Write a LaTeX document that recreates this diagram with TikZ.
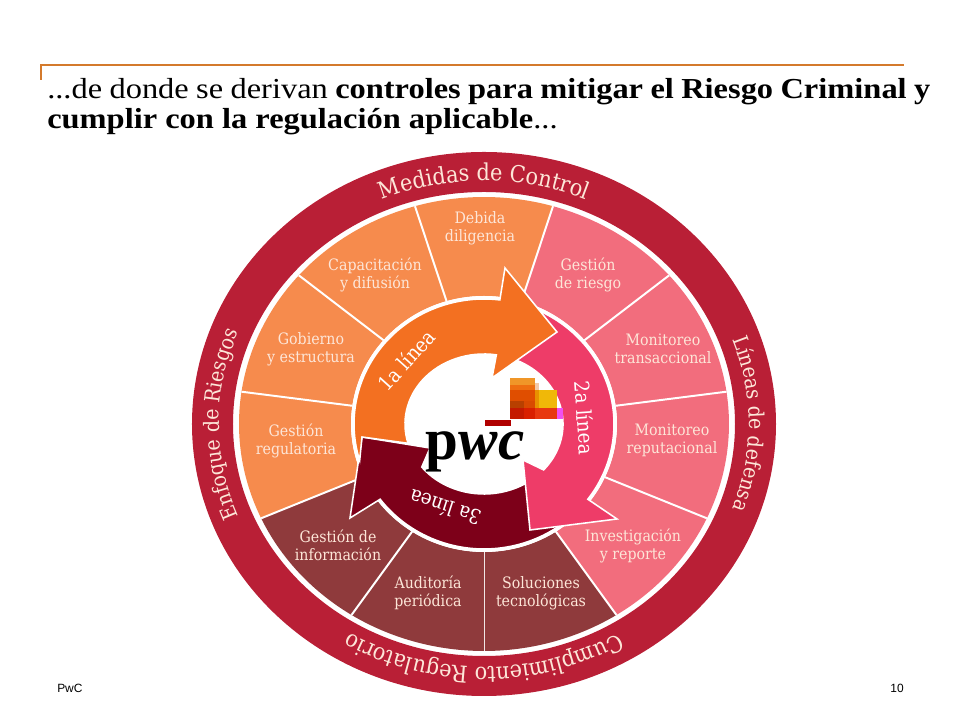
\documentclass[tikz,border=0pt]{standalone}
\usepackage{fontspec}
\usepackage{xcolor}
\usetikzlibrary{decorations.text}
\setmainfont{Liberation Serif}[FakeStretch=1.12]
\newfontfamily\wheelfont{DejaVu Serif Condensed}
\newfontfamily\logofont{Liberation Serif}
\newfontfamily\footfont{Liberation Sans}
\definecolor{ringred}{HTML}{B91F36}
\definecolor{wedgeorange}{HTML}{F68B4D}
\definecolor{wedgepink}{HTML}{F26D7D}
\definecolor{wedgebrown}{HTML}{8F3A3C}
\definecolor{arroworange}{HTML}{F37021}
\definecolor{arrowpink}{HTML}{EE3C68}
\definecolor{arrowdark}{HTML}{7D0019}
\definecolor{paletext}{HTML}{FDE6D8}
\definecolor{rulebrown}{HTML}{D47A2C}
\begin{document}
\begin{tikzpicture}[x=0.025cm,y=0.025cm,
    wedge label/.style={align=center,text=paletext,inner sep=0pt,font=\wheelfont\fontsize{11.2}{12.8}\selectfont},
    arrow label/.style={text=white,inner sep=0pt,font=\wheelfont\fontsize{14.5}{17}\selectfont},
    blade/.style={draw=white,line width=1.1pt,line join=miter}]

    \useasboundingbox (-484,-296) rectangle (476,424);

    % header
    \draw[rulebrown,line width=0.8pt] (-443,344) -- (-443,359) -- (420,359);
    \node[anchor=base west,inner sep=0pt] (title1) at (-437,325) {\fontsize{20.6}{22}\selectfont\makebox[22.07cm][s]{...de donde se derivan \textbf{controles para mitigar el Riesgo Criminal y}}};
    \node[anchor=base west,inner sep=0pt] (title2) at (-437,295) {\fontsize{20.6}{22}\selectfont\textbf{cumplir con la regulación aplicable}...};

    % outer ring
    \fill[ringred,even odd rule] (0,0) ellipse [x radius=292,y radius=272] (0,0) ellipse [x radius=251,y radius=232];

    % wedges
    \foreach \k/\col in {0/wedgebrown,1/wedgepink,2/wedgepink,3/wedgepink,4/wedgepink,5/wedgeorange,6/wedgeorange,7/wedgeorange,8/wedgeorange,9/wedgebrown,10/wedgebrown}
    {
        \pgfmathsetmacro{\a}{270+\k*360/11}
        \pgfmathsetmacro{\b}{\a+360/11}
        \fill[\col] (\a:133 and 128) -- (\a:245 and 227) arc[start angle=\a,end angle=\b,x radius=245,y radius=227] -- (\b:133 and 128) arc[start angle=\b,end angle=\a,x radius=133,y radius=128] -- cycle;
        \draw[white,line width=1.4pt] (\a:133 and 128) -- (\a:245 and 227);
    }
    \fill[white] (0,0) ellipse [x radius=133,y radius=128];

    % labels of the wedges
    \node[wedge label] (debida) at (-4,196) {Debida\\diligencia};
    \node[wedge label] (riesgo) at (104,149) {Gestión\\de riesgo};
    \node[wedge label] (transac) at (179,75) {Monitoreo\\transaccional};
    \node[wedge label] (reputa) at (188,-16) {Monitoreo\\reputacional};
    \node[wedge label] (investi) at (149,-122) {Investigación\\y reporte};
    \node[wedge label] (solucion) at (57,-169) {Soluciones\\tecnológicas};
    \node[wedge label] (audito) at (-56,-169) {Auditoría\\periódica};
    \node[wedge label] (informa) at (-146,-121) {Gestión de\\información};
    \node[wedge label] (regula) at (-188,-17) {Gestión\\regulatoria};
    \node[wedge label] (gobierno) at (-173,75) {Gobierno\\y estructura};
    \node[wedge label] (capacita) at (-109,149) {Capacitación\\y difusión};

    % ring texts
    \foreach \t/\r/\sz/\txt in {90/263/16.5/Medidas de Control,0/265/15/Líneas de defensa,-90/263/16.5/Cumplimiento Regulatorio,-180/265/15/Enfoque de Riesgos}
    {
        \pgfmathsetmacro{\p}{\t+70}
        \pgfmathsetmacro{\q}{\t-70}
        \path[decorate,decoration={text along path,text align=center,text color=paletext,
            text={|\wheelfont\fontsize{\sz}{18}\selectfont|\txt}}]
            (\p:\r\space and 243) arc[start angle=\p,end angle=\q,x radius=\r,y radius=243];
    }

    % the three arrows
    \draw[blade,fill=arrowdark] (310:130 and 125) arc[start angle=310,end angle=217,x radius=130,y radius=125]
        -- (-134,-94) -- (-122,-13) -- (-54,-24) -- (218:79 and 70) arc[start angle=218,end angle=310,x radius=79,y radius=70] -- cycle;
    \draw[blade,fill=arrowpink] (75:130 and 125) arc[start angle=75,end angle=-37,x radius=130,y radius=125]
        -- (133,-95) -- (46,-106) -- (39,-36) -- (-41:79 and 70) arc[start angle=-41,end angle=75,x radius=79,y radius=70] -- cycle;
    \draw[blade,fill=arroworange] (197:130 and 125) arc[start angle=197,end angle=83,x radius=130,y radius=125]
        -- (21,156) -- (73,92) -- (8,46) -- (81:79 and 70) arc[start angle=81,end angle=196,x radius=79,y radius=70] -- (-122,-13) -- cycle;

    \node[arrow label,rotate=48] (linea1) at (-78,64) {1a línea};
    \node[arrow label,rotate=-86] (linea2) at (101,6) {2a línea};
    \node[arrow label,rotate=162] (linea3) at (-39,-84) {3a línea};

    % logo
    \fill[fill={rgb,255:red,176;green,0;blue,0}] (1,-2) rectangle (26.7,4);
    \fill[fill={rgb,255:red,240;green,150;blue,40}] (26,46) rectangle (51,39);
    \fill[fill={rgb,255:red,243;green,201;blue,168}] (51,41) rectangle (55,34);
    \fill[fill={rgb,255:red,238;green,110;blue,16}] (26,39) rectangle (51,34);
    \fill[fill={rgb,255:red,224;green,78;blue,0}] (26,34) rectangle (51,23);
    \fill[fill={rgb,255:red,240;green,184;blue,8}] (55,34) rectangle (72.5,16);
    \fill[fill={rgb,255:red,232;green,144;blue,0}] (51,34) rectangle (55,16);
    \fill[fill={rgb,255:red,184;green,64;blue,0}] (26,23) rectangle (40,16);
    \fill[fill={rgb,255:red,217;green,74;blue,0}] (40,23) rectangle (51,16);
    \fill[fill={rgb,255:red,196;green,26;blue,0}] (26,16) rectangle (40,5);
    \fill[fill={rgb,255:red,217;green,32;blue,0}] (40,16) rectangle (51,5);
    \fill[fill={rgb,255:red,232;green,56;blue,15}] (51,16) rectangle (72.5,5);
    \fill[fill={rgb,255:red,240;green,80;blue,240}] (72.5,16) rectangle (79,5);
    \node[anchor=base,inner sep=0pt,font=\logofont\fontsize{42}{42}\selectfont\bfseries] (pwc) at (-9,-36) {p\itshape wc};

    % footer
    \node[anchor=base west,inner sep=0pt,font=\footfont\fontsize{8.5}{10}\selectfont] (foot) at (-427,-269) {PwC};
    \node[anchor=base east,inner sep=0pt,font=\footfont\fontsize{8.5}{10}\selectfont] (page) at (420,-269) {10};
\end{tikzpicture}
\end{document}
